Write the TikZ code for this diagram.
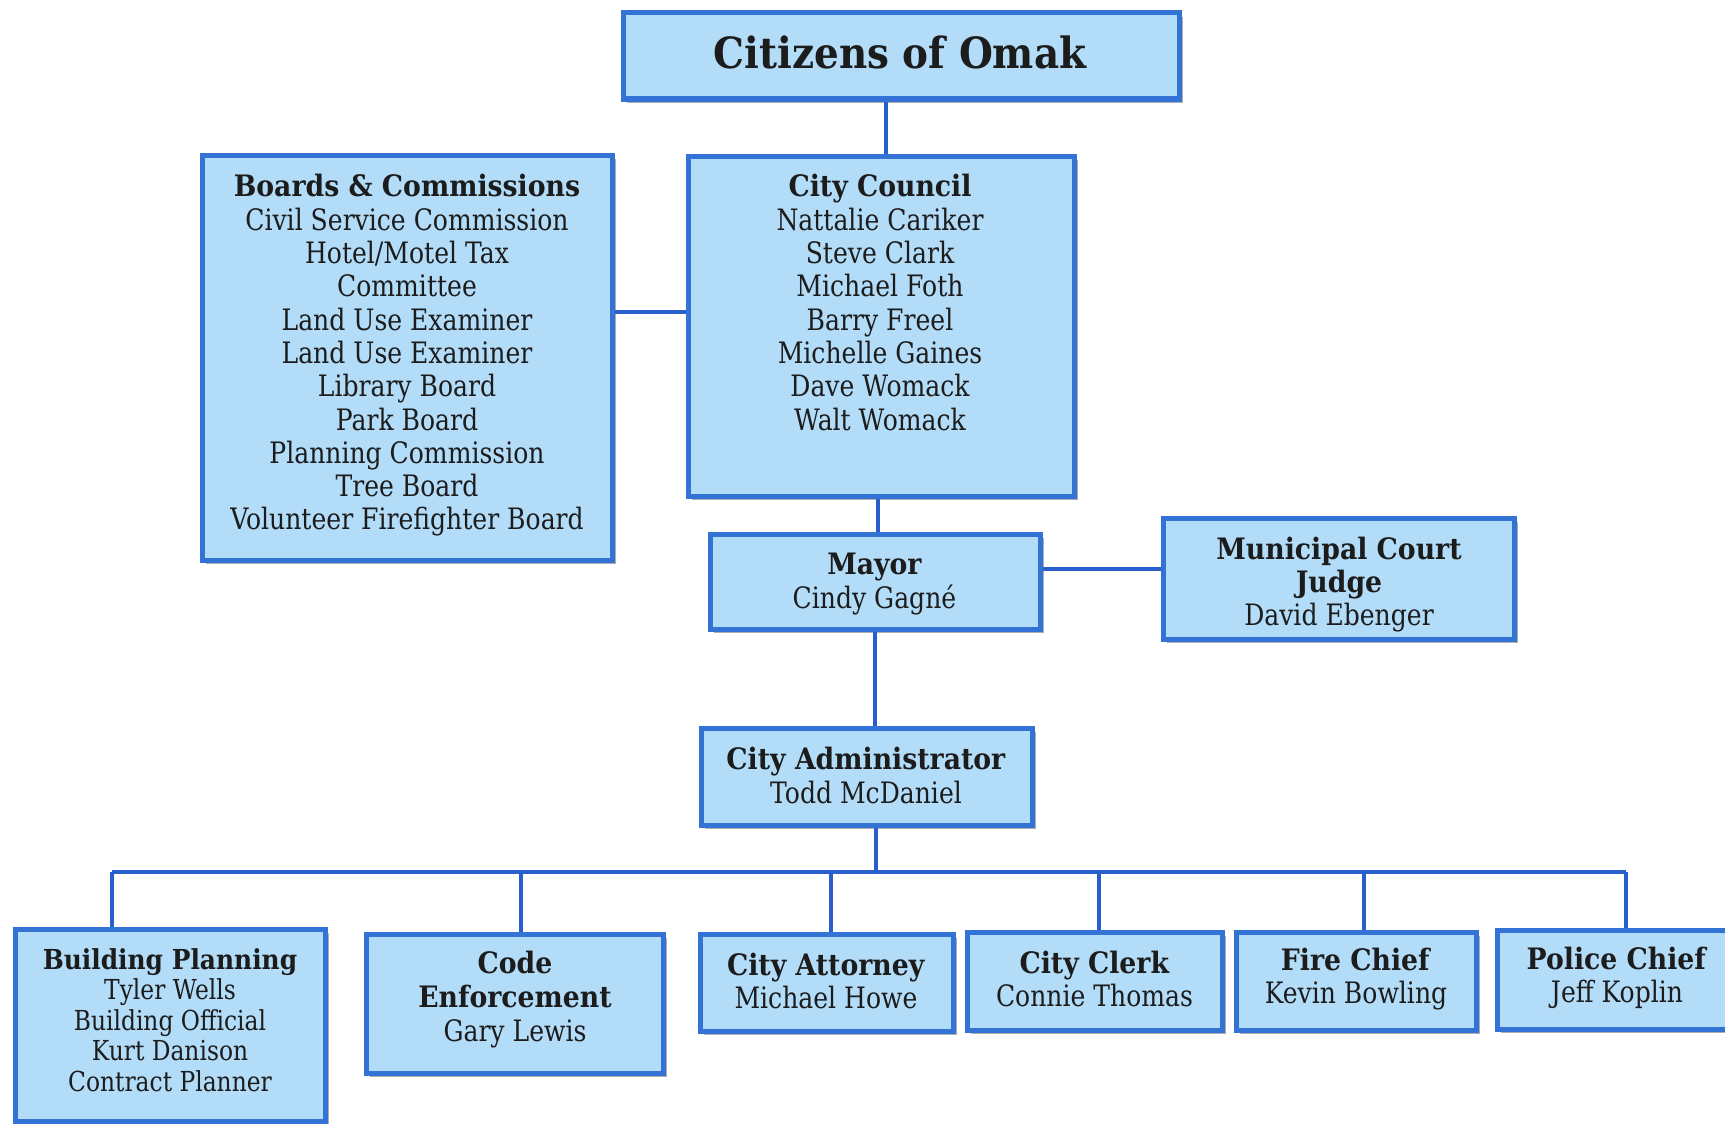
\documentclass[tikz,border=0pt]{standalone}
\usepackage{fontspec}
\setmainfont{DejaVu Serif}[FakeStretch=0.85, BoldFeatures={FakeStretch=0.905}]
\usetikzlibrary{shadows}
\definecolor{boxfill}{RGB}{178,220,248}
\definecolor{boxline}{RGB}{52,115,214}
\definecolor{connblue}{RGB}{40,95,205}
\definecolor{txt}{RGB}{28,28,28}
\tikzset{
 orgbox/.style={draw=boxline, fill=boxfill, line width=5pt, inner sep=0pt,
   drop shadow={shadow xshift=4pt, shadow yshift=-4pt, fill=black!45, opacity=0.7}},
 lbl/.style={align=center, text=txt, inner sep=0pt, font=\fontsize{29.5}{33.3}\selectfont},
 lblsmall/.style={align=center, text=txt, inner sep=0pt, font=\fontsize{27.5}{30.5}\selectfont},
 connline/.style={draw=connblue, line width=4pt}
}
\begin{document}
\begin{tikzpicture}[x=1pt,y=-1pt]
\useasboundingbox (0,0) rectangle (1725,1124);
\fill[white] (0,0) rectangle (1725,1124);
% boxes
\node[orgbox, minimum width=556pt, minimum height=86pt] (cit) at (901,56) {};
\node[orgbox, minimum width=410pt, minimum height=405pt] (boards) at (407,357.5) {};
\node[orgbox, minimum width=386pt, minimum height=340pt] (council) at (881,326) {};
\node[orgbox, minimum width=330pt, minimum height=95pt] (mayor) at (875,581.5) {};
\node[orgbox, minimum width=351pt, minimum height=121pt] (court) at (1338.5,578.5) {};
\node[orgbox, minimum width=331pt, minimum height=97pt] (admin) at (866.5,776.5) {};
\node[orgbox, minimum width=310pt, minimum height=192pt] (bp) at (170,1025) {};
\node[orgbox, minimum width=297pt, minimum height=139pt] (code) at (514.5,1003.5) {};
\node[orgbox, minimum width=253pt, minimum height=97pt] (atty) at (826.5,982.5) {};
\node[orgbox, minimum width=255pt, minimum height=98pt] (clerk) at (1094.5,981) {};
\node[orgbox, minimum width=240pt, minimum height=98pt] (fire) at (1356,981) {};
\node[orgbox, minimum width=240pt, minimum height=99pt] (police) at (1617,979.5) {};
% texts
\node[lbl, font=\fontsize{43}{48}\selectfont\bfseries] (citT) at (900,52) {Citizens of Omak};
\node[lbl] (boardsT) at (407,355.5) {\textbf{Boards \& Commissions}\\Civil Service Commission\\Hotel/Motel Tax\\Committee\\Land Use Examiner\\Land Use Examiner\\Library Board\\Park Board\\Planning Commission\\Tree Board\\Volunteer Firefighter Board};
\node[lbl] (councilT) at (880,302.5) {\textbf{City Council}\\Nattalie Cariker\\Steve Clark\\Michael Foth\\Barry Freel\\Michelle Gaines\\Dave Womack\\Walt Womack};
\node[lbl] (mayorT) at (874.5,584) {\textbf{Mayor}\\Cindy Gagné};
\node[lbl] (courtT) at (1339,584.5) {\textbf{Municipal Court}\\\textbf{Judge}\\David Ebenger};
\node[lbl] (adminT) at (866,775.5) {\textbf{City Administrator}\\Todd McDaniel};
\node[lblsmall] (bpT) at (170,1020) {\textbf{Building Planning}\\Tyler Wells\\Building Official\\Kurt Danison\\Contract Planner};
\node[lbl, font=\fontsize{29.5}{34.3}\selectfont] (codeT) at (515,999.5) {\textbf{Code}\\\textbf{Enforcement}\\Gary Lewis};
\node[lbl] (attyT) at (826,981) {\textbf{City Attorney}\\Michael Howe};
\node[lbl] (clerkT) at (1094.5,979) {\textbf{City Clerk}\\Connie Thomas};
\node[lbl] (fireT) at (1356,979) {\textbf{Fire Chief}\\Kevin Bowling};
\node[lbl] (policeT) at (1617,978) {\textbf{Police Chief}\\Jeff Koplin};
% connectors
\coordinate (busL) at (112,872);
\coordinate (busR) at (1626,872);
\coordinate (busM) at (876,872);
\draw[connline] ([xshift=5pt]council.north) -- ([xshift=5pt]council.north |- cit.south);
\draw[connline] ([yshift=45.5pt]boards.east) -- ([yshift=45.5pt]boards.east -| council.west);
\draw[connline] ([xshift=3pt]mayor.north) -- ([xshift=3pt]mayor.north |- council.south);
\draw[connline] ([yshift=12.5pt]mayor.east) -- ([yshift=12.5pt]mayor.east -| court.west);
\draw[connline] (mayor.south) -- (mayor.south |- admin.north);
\draw[connline] (busM |- admin.south) -- (busM);
\draw[connline] (busL) -- (busR);
\draw[connline] (busL) -- (busL |- bp.north);
\draw[connline] ([xshift=6.5pt]code.north |- busL) -- ([xshift=6.5pt]code.north);
\draw[connline] ([xshift=4.5pt]atty.north |- busL) -- ([xshift=4.5pt]atty.north);
\draw[connline] ([xshift=4.5pt]clerk.north |- busL) -- ([xshift=4.5pt]clerk.north);
\draw[connline] ([xshift=8pt]fire.north |- busL) -- ([xshift=8pt]fire.north);
\draw[connline] (busR) -- (busR |- police.north);
\end{tikzpicture}
\end{document}
